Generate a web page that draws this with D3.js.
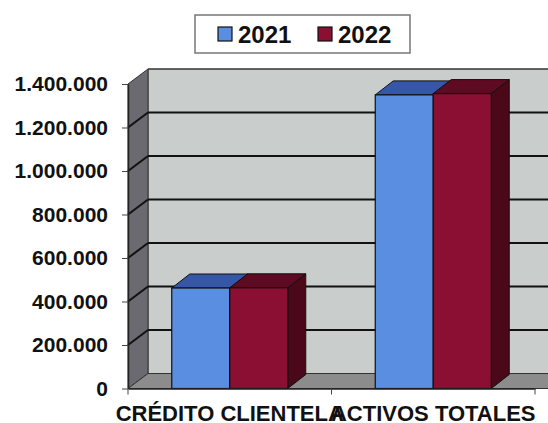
<!DOCTYPE html>
<html>
<head>
<meta charset="utf-8">
<script src="https://cdn.jsdelivr.net/npm/d3@7"></script>
<style>
  body { margin: 0; background: #fff; }
  svg { display: block; font-family: "Liberation Sans", Arial, sans-serif; }
</style>
</head>
<body>
<svg id="chart" width="548" height="423"></svg>
<script>
// chart values
const categories = ['CRÉDITO CLIENTELA', 'ACTIVOS TOTALES']
const series = ['2021', '2022']
const values2021 = [462000, 1350000]
const values2022 = [463000, 1356000]
const yTicks = [0, 200000, 400000, 600000, 800000, 1000000, 1200000, 1400000]

const svg = d3.select('#chart')
const margin = {top: 84, bottom: 34, right: 13, left: 128}
const width = +svg.attr('width')
const height = +svg.attr('height')
const visWidth = width - margin.left - margin.right
const visHeight = height - margin.top - margin.bottom - 0.5

// depth offset for the 3d walls and bars
const wallDx = 20, wallDy = -15
const barDx = 18, barDy = -14

const x = d3.scaleBand().domain(categories).range([0, visWidth]).paddingInner(0).paddingOuter(0)
const xSeries = d3.scaleBand().domain(series).range([x.bandwidth() / 2 - 58, x.bandwidth() / 2 + 58])
const y = d3.scaleLinear().domain([0, 1400000]).range([visHeight, 0])

const colors = {
  '2021': {front: '#5a8ee0', top: '#3656a8', side: '#2c4a8a'},
  '2022': {front: '#8a0f33', top: '#5e0a22', side: '#4a0818'}
}

const fmt = v => d3.format(',')(v).replace(/,/g, '.')

const g = svg.append('g').attr('transform', `translate(${margin.left},${margin.top})`)

// back wall
g.append('rect')
  .attr('x', wallDx).attr('y', y(1400000) + wallDy)
  .attr('width', visWidth + 20).attr('height', visHeight)
  .attr('fill', '#c9cdcb')
g.append('line')
  .attr('x1', wallDx).attr('x2', visWidth + 40)
  .attr('y1', y(1400000) + wallDy).attr('y2', y(1400000) + wallDy)
  .attr('stroke', '#333').attr('stroke-width', 1.5)
g.append('line')
  .attr('x1', wallDx).attr('x2', wallDx)
  .attr('y1', y(1400000) + wallDy).attr('y2', y(0) + wallDy)
  .attr('stroke', '#333').attr('stroke-width', 1)

// left wall
g.append('path')
  .attr('d', `M0,${y(1400000)} L${wallDx},${y(1400000) + wallDy} L${wallDx},${y(0) + wallDy} L0,${y(0)} Z`)
  .attr('fill', '#6a6a70').attr('stroke', '#333').attr('stroke-width', 1)

// floor
g.append('path')
  .attr('d', `M0,${y(0)} L${wallDx},${y(0) + wallDy} L${visWidth + 40},${y(0) + wallDy} L${visWidth + 20},${y(0)} Z`)
  .attr('fill', '#8c8c8c').attr('stroke', '#333').attr('stroke-width', 1)

// gridlines on back wall and left wall
const grid = g.append('g')
yTicks.filter(t => t > 0 && t < 1400000).forEach(t => {
  grid.append('line')
    .attr('x1', wallDx).attr('x2', visWidth + 40)
    .attr('y1', y(t) + wallDy).attr('y2', y(t) + wallDy)
    .attr('stroke', '#111').attr('stroke-width', 2)
  grid.append('line')
    .attr('x1', 0).attr('x2', wallDx)
    .attr('y1', y(t)).attr('y2', y(t) + wallDy)
    .attr('stroke', '#111').attr('stroke-width', 2)
})

// bars
const rows = []
categories.forEach((c, i) => {
  rows.push({cat: c, s: '2021', v: values2021[i]})
  rows.push({cat: c, s: '2022', v: values2022[i]})
})

const bar = g.selectAll('g.bar')
  .data(rows)
  .join('g')
  .attr('class', 'bar')
  .attr('transform', d => `translate(${x(d.cat) + xSeries(d.s)},0)`)

const bw = xSeries.bandwidth()
bar.append('path')
  .attr('d', d => `M${bw},${y(d.v)} L${bw + barDx},${y(d.v) + barDy} L${bw + barDx},${y(0) + barDy} L${bw},${y(0)} Z`)
  .attr('fill', d => colors[d.s].side).attr('stroke', '#111').attr('stroke-width', 1)
bar.append('path')
  .attr('d', d => `M0,${y(d.v)} L${barDx},${y(d.v) + barDy} L${bw + barDx},${y(d.v) + barDy} L${bw},${y(d.v)} Z`)
  .attr('fill', d => colors[d.s].top).attr('stroke', '#111').attr('stroke-width', 1)
bar.append('rect')
  .attr('x', 0).attr('y', d => y(d.v))
  .attr('width', bw).attr('height', d => y(0) - y(d.v))
  .attr('fill', d => colors[d.s].front).attr('stroke', '#111').attr('stroke-width', 1.2)

// y axis
const yAxis = g.append('g')
  .call(d3.axisLeft(y).tickValues(yTicks).tickFormat(fmt).tickSize(6).tickSizeOuter(0))
yAxis.select('.domain').attr('stroke', '#222').attr('stroke-width', 1.5)
yAxis.selectAll('.tick line').attr('stroke', '#444')
yAxis.selectAll('.tick text')
  .attr('x', -20)
  .attr('font-size', 21).attr('font-weight', 'bold').attr('fill', '#111')
  .attr('font-family', '"Liberation Sans", Arial, sans-serif')

// x axis
const xAxis = g.append('g')
  .attr('transform', `translate(0,${visHeight})`)
  .call(d3.axisBottom(x).tickSize(0).tickSizeOuter(0))
xAxis.select('.domain').attr('stroke', '#222').attr('stroke-width', 1.5)
xAxis.selectAll('.tick text')
  .attr('dy', 0).attr('y', 32)
  .attr('font-size', 22).attr('font-weight', 'bold').attr('fill', '#111')
  .attr('font-family', '"Liberation Sans", Arial, sans-serif')
const catTicks = [0, visWidth / 2, visWidth]
xAxis.selectAll('line.cat').data(catTicks).join('line')
  .attr('class', 'cat')
  .attr('x1', d => d).attr('x2', d => d).attr('y1', 0).attr('y2', 6)
  .attr('stroke', '#444')

// legend
const legend = svg.append('g').attr('transform', 'translate(195,15)')
legend.append('rect')
  .attr('width', 215).attr('height', 38)
  .attr('fill', '#fff').attr('stroke', '#777').attr('stroke-width', 1.5)
const li = legend.selectAll('g').data(series).join('g')
  .attr('transform', (d, i) => `translate(${23 + i * 100},0)`)
li.append('rect')
  .attr('x', 0).attr('y', 12).attr('width', 14).attr('height', 14)
  .attr('fill', d => colors[d].front).attr('stroke', '#111').attr('stroke-width', 1.2)
li.append('text')
  .attr('x', 20).attr('y', 28)
  .attr('font-size', 24).attr('font-weight', 'bold').attr('fill', '#111')
  .text(d => d)
</script>
</body>
</html>
